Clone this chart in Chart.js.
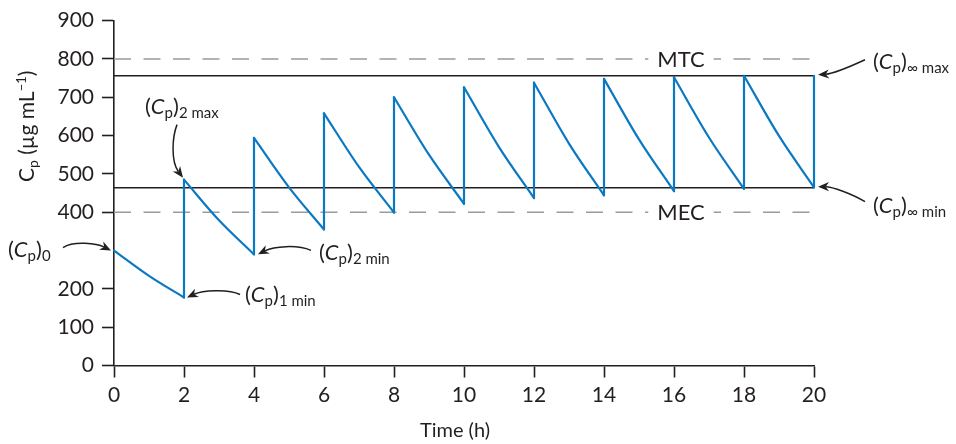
<!DOCTYPE html>
<html>
<head>
<meta charset="utf-8">
<script src="https://cdn.jsdelivr.net/npm/chart.js@4/dist/chart.umd.min.js"></script>
<style>
  html, body { margin: 0; padding: 0; background: #fff; }
  #wrap { width: 956px; height: 444px; }
</style>
</head>
<body>
<div id="wrap"><canvas id="chart" width="956" height="444"></canvas></div>
<script>
// Multiple-dose IV bolus: plasma concentration (µg/mL) against time (h)
const doseTimes  = [0, 2, 4, 6, 8, 10, 12, 14, 16, 18, 20];
const peakConc   = [300, 485, 594, 658, 700, 726, 738, 748, 752, 756, 756];
const midTimes   = [1, 3, 5, 7, 9, 11, 13, 15, 17, 19];
const midConc    = [234, 379, 465, 518, 550, 570, 579, 590, 595, 599];
const troughConc = [177.5, 290, 355, 399, 422, 437, 444, 455, 461, 465];

// Steady-state plateau and therapeutic window
const steadyMax = 756;
const steadyMin = 464;
const mtcLevel  = 800;
const mecLevel  = 400;

// Axis ticks (the 300 slot is taken by the (Cp)0 callout)
const xTickValues = [0, 2, 4, 6, 8, 10, 12, 14, 16, 18, 20];
const xTickLabels = ['0', '2', '4', '6', '8', '10', '12', '14', '16', '18', '20'];
const yTickValues = [0, 100, 200, 300, 400, 500, 600, 700, 800, 900];
const yTickLabels = ['0', '100', '200', '', '400', '500', '600', '700', '800', '900'];

// ---- styling ----
const ink = '#231f20';
const blue = '#0b79c2';
const dashGray = '#9b9b9b';
const family = 'Lato, "Open Sans", "DejaVu Sans", sans-serif';
const font = (size, italic) => (italic ? 'italic ' : '') + size + 'px ' + family;

// ---- datasets ----
const datasets = [];
const curve = { borderColor: blue, borderWidth: 2.2, pointRadius: 0, order: 0,
                borderCapStyle: 'round', borderJoinStyle: 'round', clip: false };
for (let i = 0; i < midConc.length; i++) {
  datasets.push(Object.assign({
    data: [
      { x: doseTimes[i], y: peakConc[i] },
      { x: midTimes[i], y: midConc[i] },
      { x: doseTimes[i + 1], y: troughConc[i] }
    ],
    cubicInterpolationMode: 'monotone'
  }, curve));
}
for (let i = 1; i < doseTimes.length; i++) {
  datasets.push(Object.assign({
    data: [
      { x: doseTimes[i], y: troughConc[i - 1] },
      { x: doseTimes[i], y: peakConc[i] }
    ],
    tension: 0
  }, curve));
}
const tStart = doseTimes[0], tEnd = doseTimes[doseTimes.length - 1];
const hline = (level, color, dash, order) => ({
  data: [{ x: tStart, y: level }, { x: tEnd, y: level }],
  borderColor: color, borderWidth: 1.5, borderDash: dash, pointRadius: 0,
  tension: 0, order: order, clip: false
});
datasets.push(hline(steadyMax, ink, [], 1));
datasets.push(hline(steadyMin, ink, [], 1));
datasets.push(hline(mtcLevel, dashGray, [17, 12.5], 2));
datasets.push(hline(mecLevel, dashGray, [17, 12.5], 2));

// ---- annotation text ----
function drawRich(ctx, x, y, parts) {
  let cx = x;
  for (const p of parts) {
    ctx.font = font(p.size, p.italic);
    ctx.fillText(p.t, cx, y + (p.dy || 0));
    cx += ctx.measureText(p.t).width;
  }
  return cx - x;
}
const cpLabel = sub => [
  { t: '(', size: 22 },
  { t: 'C', size: 22, italic: true },
  { t: 'p', size: 15, dy: 4 },
  { t: ')', size: 22 },
  { t: sub, size: 15, dy: 4 }
];

// Callouts: offsets in px from the point they describe
const callouts = [
  { at: () => [doseTimes[0], peakConc[0]], sub: '0',
    label: [-106, 6.5], tail: [-51, -3], c1: [-40, -10], c2: [-17, -7], tip: [-3, 0] },
  { at: () => [doseTimes[1], troughConc[0]], sub: '1 min',
    label: [61, 5], tail: [56, -3], c1: [44, -9], c2: [18, -7], tip: [3, 0] },
  { at: () => [doseTimes[1], peakConc[1]], sub: '2 max',
    label: [-39, -66], tail: [-7, -55], c1: [-12, -42], c2: [-13, -18], tip: [-1, -2] },
  { at: () => [doseTimes[2], troughConc[1]], sub: '2 min',
    label: [65, 6], tail: [57, -4], c1: [43, -10], c2: [20, -8], tip: [4, 0] },
  { at: () => [tEnd, steadyMax], sub: '\u221E max',
    label: [59, -7], tail: [51, -16], c1: [38, -10], c2: [18, -2], tip: [4, -1] },
  { at: () => [tEnd, steadyMin], sub: '\u221E min',
    label: [59, 25], tail: [51, 14], c1: [38, 6], c2: [18, -1], tip: [4, -1] }
];

// Layout constants for text placed outside the data
const tagHour = 16.2;             // where MTC / MEC sit along the dashed lines
const yTitleAnchor = [33.5, 182]; // baseline x, start y of rotated axis title
const xTitleAnchor = [455, 437];

function arrow(ctx, p0, p1, p2, p3) {
  const ang = Math.atan2(p3[1] - p2[1], p3[0] - p2[0]);
  const L = 11, W = 4.6;
  const ux = Math.cos(ang), uy = Math.sin(ang);
  const back = [p3[0] - ux * L * 0.7, p3[1] - uy * L * 0.7];
  ctx.beginPath();
  ctx.moveTo(p0[0], p0[1]);
  ctx.bezierCurveTo(p1[0], p1[1], p2[0], p2[1], back[0], back[1]);
  ctx.lineWidth = 1.5;
  ctx.stroke();
  ctx.beginPath();
  ctx.moveTo(p3[0], p3[1]);
  ctx.lineTo(p3[0] - ux * L - uy * W, p3[1] - uy * L + ux * W);
  ctx.lineTo(back[0], back[1]);
  ctx.lineTo(p3[0] - ux * L + uy * W, p3[1] - uy * L - ux * W);
  ctx.closePath();
  ctx.fill();
}

const annotate = {
  id: 'annotate',
  afterDatasetsDraw(chart) {
    const { ctx, scales: { x, y } } = chart;
    ctx.save();
    ctx.fillStyle = ink;
    ctx.strokeStyle = ink;
    ctx.textBaseline = 'alphabetic';

    // MTC / MEC tags on the dashed lines
    for (const [txt, level] of [['MTC', mtcLevel], ['MEC', mecLevel]]) {
      const cx = x.getPixelForValue(tagHour), cy = y.getPixelForValue(level);
      ctx.font = font(22);
      const w = ctx.measureText(txt).width;
      ctx.fillStyle = '#fff';
      ctx.fillRect(cx - w / 2 - 9, cy - 4, w + 18, 8);
      ctx.fillStyle = ink;
      ctx.textAlign = 'center';
      ctx.fillText(txt, cx, cy + 7.8);
    }
    ctx.textAlign = 'left';

    // concentration callouts with arrows
    for (const c of callouts) {
      const [hx, hy] = c.at();
      const px = x.getPixelForValue(hx), py = y.getPixelForValue(hy);
      const off = o => [px + o[0], py + o[1]];
      arrow(ctx, off(c.tail), off(c.c1), off(c.c2), off(c.tip));
      drawRich(ctx, px + c.label[0], py + c.label[1], cpLabel(c.sub));
    }

    // y-axis title, rotated
    ctx.save();
    ctx.translate(yTitleAnchor[0], yTitleAnchor[1]);
    ctx.rotate(-Math.PI / 2);
    drawRich(ctx, 0, 0, [
      { t: 'C', size: 21 },
      { t: 'p', size: 14, dy: 4 },
      { t: ' (\u00B5g mL', size: 21 },
      { t: '\u22121', size: 13, dy: -8 },
      { t: ')', size: 21 }
    ]);
    ctx.restore();

    // x-axis title
    ctx.font = font(20);
    ctx.textAlign = 'center';
    ctx.fillText('Time (h)', xTitleAnchor[0], xTitleAnchor[1]);
    ctx.restore();
  }
};

const border = { color: ink, width: 1.6 };
const gridFor = labels => ({
  drawOnChartArea: false, drawTicks: true, tickLength: 12, tickWidth: 1.6, color: ink,
  tickColor: c => (c.tick && labels[c.index] === '' ? 'rgba(0,0,0,0)' : ink)
});

new Chart(document.getElementById('chart'), {
  type: 'line',
  data: { datasets },
  options: {
    responsive: false,
    animation: false,
    devicePixelRatio: 1,
    layout: { padding: { top: 20, right: 142, left: 0, bottom: 0 } },
    plugins: { legend: { display: false }, tooltip: { enabled: false } },
    scales: {
      x: {
        type: 'linear', min: 0, max: 20, border, grid: gridFor(xTickLabels),
        afterBuildTicks: s => { s.ticks = xTickValues.map(v => ({ value: v })); },
        afterFit: s => { s.height = 78.5; },
        ticks: { color: ink, font: { family, size: 21 }, padding: 5, maxRotation: 0, autoSkip: false,
                 callback: (v, i) => xTickLabels[i] }
      },
      y: {
        type: 'linear', min: 0, max: 900, border, grid: gridFor(yTickLabels),
        afterBuildTicks: s => { s.ticks = yTickValues.map(v => ({ value: v })); },
        afterFit: s => { s.width = 114; },
        ticks: { color: ink, font: { family, size: 21 }, padding: 8, autoSkip: false,
                 callback: (v, i) => yTickLabels[i] }
      }
    }
  },
  plugins: [annotate]
});
</script>
</body>
</html>
